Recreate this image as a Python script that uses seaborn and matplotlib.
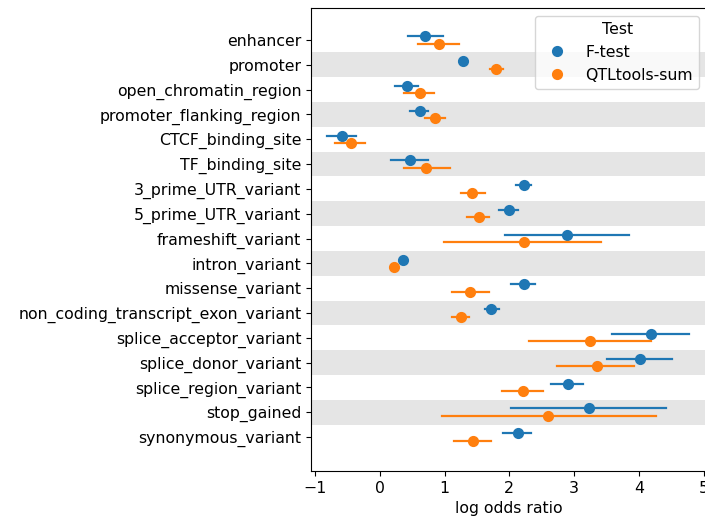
import matplotlib
matplotlib.use('Agg')
import matplotlib.pyplot as plt
import seaborn as sns
import pandas as pd

# --- data (log odds ratio, lower / estimate / upper) ---
CATEGORIES = [
    'enhancer', 'promoter', 'open_chromatin_region', 'promoter_flanking_region',
    'CTCF_binding_site', 'TF_binding_site', '3_prime_UTR_variant',
    '5_prime_UTR_variant', 'frameshift_variant', 'intron_variant',
    'missense_variant', 'non_coding_transcript_exon_variant',
    'splice_acceptor_variant', 'splice_donor_variant', 'splice_region_variant',
    'stop_gained', 'synonymous_variant',
]
TESTS = ['F-test', 'QTLtools-sum']

ftest_est = [0.70, 1.28, 0.42, 0.62, -0.58, 0.46, 2.23, 1.99, 2.89, 0.36,
             2.23, 1.72, 4.19, 4.01, 2.91, 3.23, 2.13]
ftest_lo = [0.44, 1.24, 0.23, 0.47, -0.81, 0.17, 2.11, 1.84, 1.94, 0.34,
            2.02, 1.62, 3.59, 3.50, 2.64, 2.03, 1.91]
ftest_hi = [0.97, 1.33, 0.59, 0.74, -0.37, 0.74, 2.34, 2.13, 3.85, 0.38,
            2.40, 1.84, 4.77, 4.51, 3.14, 4.41, 2.34]

qtl_est = [0.91, 1.80, 0.62, 0.85, -0.44, 0.72, 1.43, 1.53, 2.22, 0.22,
           1.40, 1.25, 3.25, 3.35, 2.21, 2.60, 1.44]
qtl_lo = [0.59, 1.70, 0.38, 0.70, -0.69, 0.37, 1.25, 1.34, 0.99, 0.20,
          1.12, 1.12, 2.30, 2.73, 1.89, 0.96, 1.14]
qtl_hi = [1.22, 1.91, 0.84, 1.01, -0.22, 1.08, 1.62, 1.68, 3.42, 0.24,
          1.68, 1.38, 4.18, 3.93, 2.52, 4.27, 1.71]

# long form: three rows per group so median = estimate, min/max = interval
rows = []
for test, lo, est, hi in [(TESTS[0], ftest_lo, ftest_est, ftest_hi),
                          (TESTS[1], qtl_lo, qtl_est, qtl_hi)]:
    for cat, a, b, c in zip(CATEGORIES, lo, est, hi):
        for v in (a, b, c):
            rows.append({'annotation': cat, 'Test': test, 'log odds ratio': v})
df = pd.DataFrame(rows)

plt.rcParams['font.size'] = 11.3

fig = plt.figure(figsize=(7.05, 5.21), dpi=100)
ax = fig.add_axes([311 / 705, 50 / 521, 396 / 705, 463 / 521])

# alternating grey bands
for i in range(len(CATEGORIES)):
    if i % 2 == 1:
        ax.axhspan(i - 0.5, i + 0.5, color='#e5e5e5', zorder=0, lw=0)

sns.pointplot(data=df, x='log odds ratio', y='annotation', hue='Test',
              order=CATEGORIES, hue_order=TESTS,
              estimator='median', errorbar=lambda v: (v.min(), v.max()),
              dodge=0.3, linestyle='none', markersize=6,
              err_kws={'linewidth': 1.6}, ax=ax, zorder=3)

ax.set_xlim(-1.06, 5.05)
ax.set_ylim(17.37, -1.29)
ax.set_ylabel('')
ax.set_xlabel('log odds ratio')
ax.legend(title='Test', loc='upper right')

fig.savefig('out.png', dpi=100)
